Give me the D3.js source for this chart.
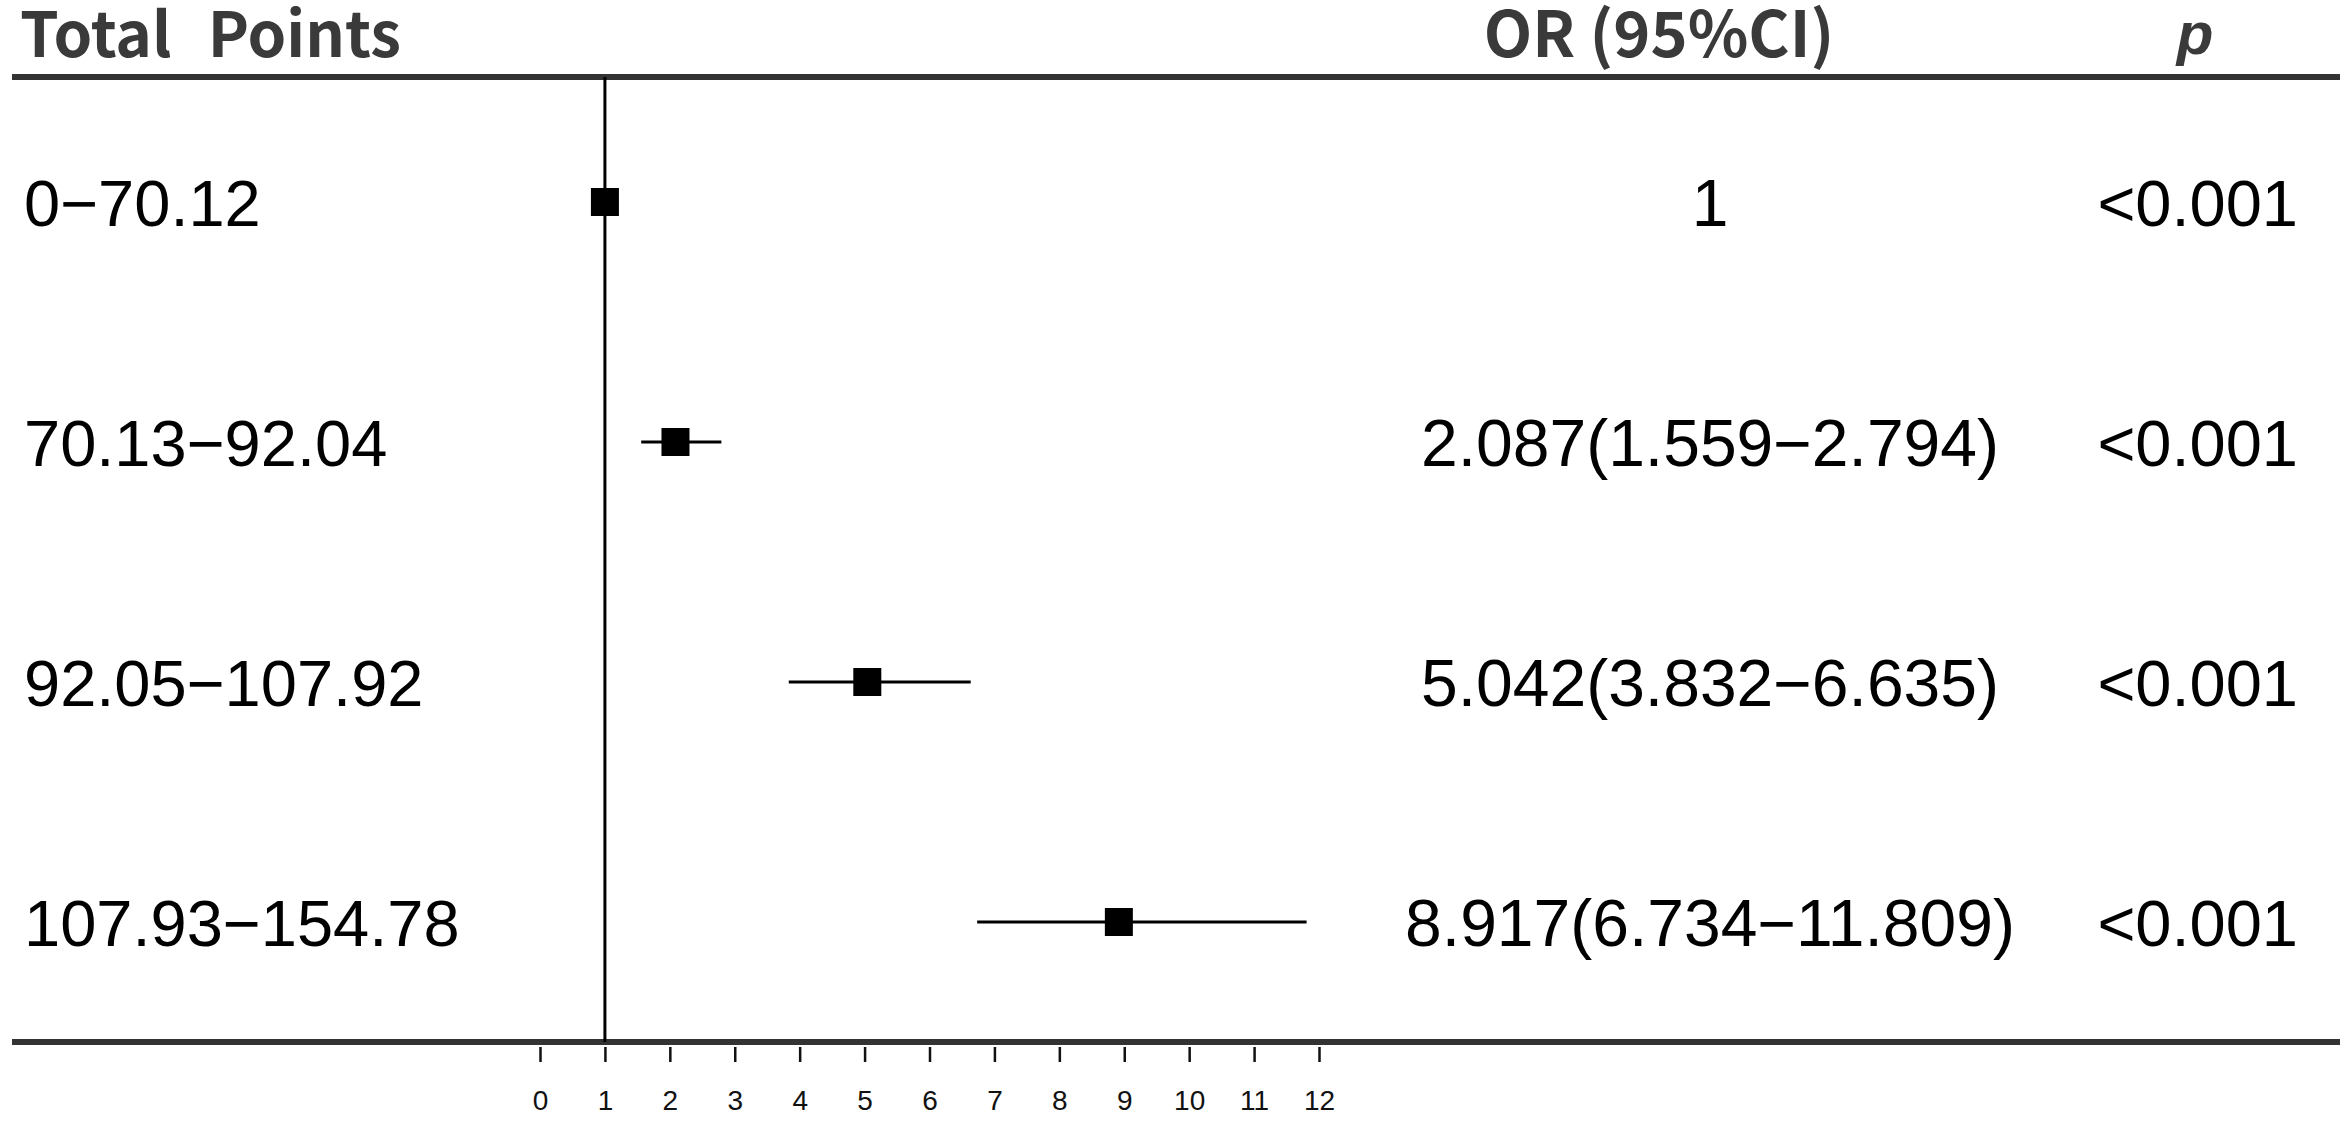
<!DOCTYPE html>
<html>
<head>
<meta charset="utf-8">
<script src="https://cdn.jsdelivr.net/npm/d3@7"></script>
<style>
  html, body { margin: 0; padding: 0; background: #fff; }
  svg { display: block; }
  text { white-space: pre; }
</style>
</head>
<body>
<svg id="chart" width="2352" height="1140"></svg>
<script>
// ---- data ----
const categories = ["0−70.12", "70.13−92.04", "92.05−107.92", "107.93−154.78"];
const orValues   = [1, 2.087, 5.042, 8.917];
const ciLower    = [null, 1.559, 3.832, 6.734];
const ciUpper    = [null, 2.794, 6.635, 11.809];
const orLabels   = ["1", "2.087(1.559−2.794)", "5.042(3.832−6.635)", "8.917(6.734−11.809)"];
const pLabels    = ["<0.001", "<0.001", "<0.001", "<0.001"];
const tickValues = [0,1,2,3,4,5,6,7,8,9,10,11,12];
const headers    = { label: "Total  Points", or: "OR (95%CI)", p: "p" };
const refValue   = 1;

// ---- layout ----
const svg = d3.select("#chart");
const x = d3.scaleLinear().domain([0, 12]).range([540, 1319]);
const y = d3.scalePoint().domain(categories).range([202, 922]);
const topRuleY = 77, bottomRuleY = 1042;
const ruleX0 = 12, ruleX1 = 2340;
const headFont = "'Noto Sans CJK SC', 'Noto Sans', sans-serif";
const bodyFont = "'Liberation Sans', Arial, sans-serif";
const fs = 65;

// header texts
svg.append("text").attr("x", 20).attr("y", 57)
  .attr("font-family", headFont).attr("font-weight", 700).attr("font-size", 62)
  .attr("word-spacing", 4)
  .attr("fill", "#3a3a3a").text(headers.label);
svg.append("text").attr("x", 1659).attr("y", 57).attr("text-anchor", "middle")
  .attr("font-family", headFont).attr("font-weight", 700).attr("font-size", 63)
  .attr("fill", "#3a3a3a").text(headers.or);
svg.append("text").attr("x", 2195).attr("y", 54).attr("text-anchor", "middle")
  .attr("font-family", bodyFont).attr("font-weight", 700)
  .attr("font-style", "italic").attr("font-size", 60)
  .attr("fill", "#3a3a3a").text(headers.p);

// rules
svg.append("line").attr("x1", ruleX0).attr("x2", ruleX1).attr("y1", topRuleY).attr("y2", topRuleY)
  .attr("stroke", "#333").attr("stroke-width", 6);
svg.append("line").attr("x1", ruleX0).attr("x2", ruleX1).attr("y1", bottomRuleY).attr("y2", bottomRuleY)
  .attr("stroke", "#333").attr("stroke-width", 6);

// reference line
svg.append("line").attr("x1", x(refValue)).attr("x2", x(refValue))
  .attr("y1", topRuleY).attr("y2", bottomRuleY)
  .attr("stroke", "#000").attr("stroke-width", 3);

// axis
const axis = d3.axisBottom(x).tickValues(tickValues).tickSize(15).tickPadding(28).tickFormat(d3.format("d"));
const gAxis = svg.append("g").attr("transform", `translate(0,${bottomRuleY + 5})`).call(axis);
gAxis.select(".domain").remove();
gAxis.selectAll(".tick line").attr("stroke", "#111").attr("stroke-width", 2.5);
gAxis.selectAll(".tick text").attr("font-family", bodyFont).attr("font-size", 28).attr("fill", "#111");

// rows
const rows = svg.append("g").selectAll("g").data(categories).join("g");
rows.append("text").attr("x", 24).attr("y", d => y(d) + 24)
  .attr("font-family", bodyFont).attr("font-size", fs).attr("fill", "#000").text(d => d);

rows.filter((d, i) => ciLower[i] != null).append("line")
  .attr("x1", d => x(ciLower[categories.indexOf(d)]))
  .attr("x2", d => x(ciUpper[categories.indexOf(d)]))
  .attr("y1", d => y(d)).attr("y2", d => y(d))
  .attr("stroke", "#000").attr("stroke-width", 3);

const sq = 28;
rows.append("rect")
  .attr("x", (d, i) => x(orValues[i]) - sq / 2)
  .attr("y", d => y(d) - sq / 2)
  .attr("width", sq).attr("height", sq).attr("fill", "#000");

rows.append("text").attr("x", 1710).attr("y", d => y(d) + 24).attr("text-anchor", "middle")
  .attr("font-family", bodyFont).attr("font-size", 66).attr("fill", "#000")
  .text((d, i) => orLabels[i]);

rows.append("text").attr("x", 2298).attr("y", d => y(d) + 24).attr("text-anchor", "end")
  .attr("font-family", bodyFont).attr("font-size", fs).attr("fill", "#000")
  .text((d, i) => pLabels[i]);
</script>
</body>
</html>
